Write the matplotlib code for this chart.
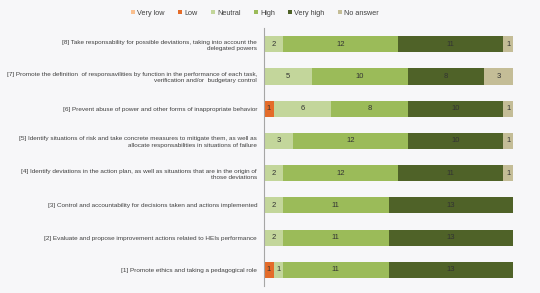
import matplotlib.pyplot as plt
import numpy as np

plt.rcParams['font.family'] = ['Liberation Sans', 'DejaVu Sans']

items = [
    "[8] Take responsability for possible deviations, taking into account the\ndelegated powers",
    "[7] Promote the definition  of responsavilities by function in the performance of each task,\nverification and/or  budgetary control",
    "[6] Prevent abuse of power and other forms of inappropriate behavior",
    "[5] Identify situations of risk and take concrete measures to mitigate them, as well as\nallocate responsabilities in situations of failure",
    "[4] Identify deviations in the action plan, as well as situations that are in the origin of\nthose deviations",
    "[3] Control and accountability for decisions taken and actions implemented",
    "[2] Evaluate and propose improvement actions related to HEIs performance",
    "[1] Promote ethics and taking a pedagogical role",
]

categories = ["Very low", "Low", "Neutral", "High", "Very high", "No answer"]
very_low = [0, 0, 0, 0, 0, 0, 0, 0]
low = [0, 0, 1, 0, 0, 0, 0, 1]
neutral = [2, 5, 6, 3, 2, 2, 2, 1]
high = [12, 10, 8, 12, 12, 11, 11, 11]
very_high = [11, 8, 10, 10, 11, 13, 13, 13]
no_answer = [1, 3, 1, 1, 1, 0, 0, 0]

colors = ["#fac090", "#e46c2a", "#c3d69b", "#9bbb59", "#4f6228", "#c4bd97"]
bg = "#f7f7f9"

fig = plt.figure(figsize=(5.4, 2.93), dpi=100, facecolor=bg)
ax = fig.add_axes([0.489, 0.024, 0.461, 0.880], facecolor=bg)

series = [very_low, low, neutral, high, very_high, no_answer]
y = np.arange(len(items))[::-1]
left = np.zeros(len(items))
for name, vals, col in zip(categories, series, colors):
    vals = np.array(vals, dtype=float)
    bars = ax.barh(y, vals, left=left, height=0.5, color=col, label=name, edgecolor='none')
    for b, v in zip(bars, vals):
        if v > 0:
            ax.text(b.get_x() + b.get_width() / 2, b.get_y() + b.get_height() / 2,
                    f"{int(v)}", ha='center', va='center', fontsize=5.5, color='#333333')
    left += vals

ax.set_xlim(0, 26)
ax.set_ylim(-0.5, len(items) - 0.5)
ax.set_yticks(y)
ax.set_yticklabels(items, fontsize=4.6, color='#404040', linespacing=1.35)
ax.tick_params(axis='y', length=0, pad=5)
ax.set_xticks([])
for s in ['top', 'right', 'bottom']:
    ax.spines[s].set_visible(False)
ax.spines['left'].set_color('#a6a6a6')
ax.spines['left'].set_linewidth(0.8)

fig.legend(loc='center', bbox_to_anchor=(0.472, 0.955), ncol=6, frameon=False,
           fontsize=5.2, handlelength=0.6, handleheight=0.6, handletextpad=0.3,
           columnspacing=1.8, labelcolor='#404040')

fig.savefig("out.png", dpi=100, facecolor=bg)
